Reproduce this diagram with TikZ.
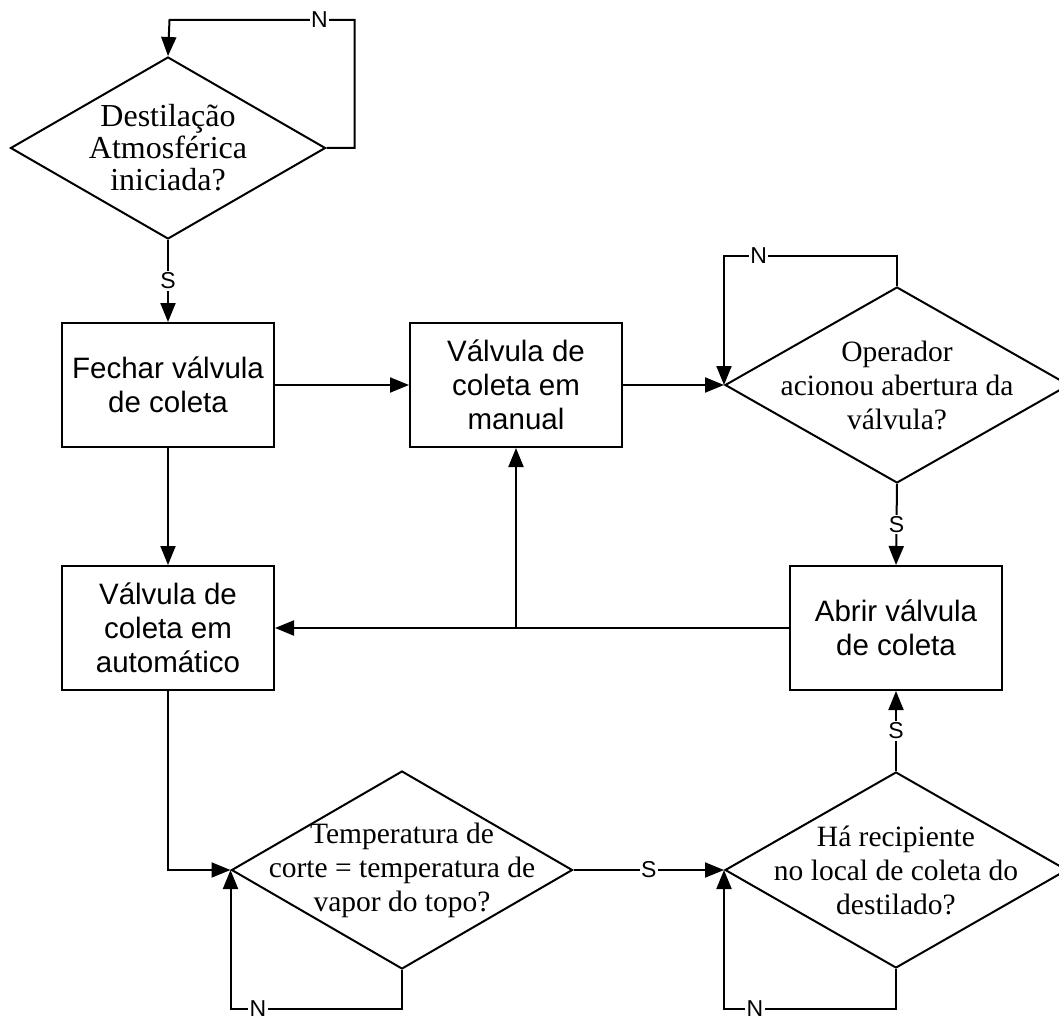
\documentclass[tikz,border=0pt]{standalone}
\usepackage{fontspec}
\setmainfont{Liberation Serif}
\setsansfont{Liberation Sans}
\usetikzlibrary{shapes.geometric,arrows.meta,calc}
\begin{document}
\begin{tikzpicture}[x=1pt,y=-1pt,
  line width=2pt,
  >={Triangle[length=19pt,width=15pt]},
  box/.style={draw, rectangle, minimum width=212pt, minimum height=124pt,
    inner sep=0pt, align=center, font=\sffamily\fontsize{29.5}{34}\selectfont},
  dia/.style={draw, diamond, inner sep=0pt},
  dtext/.style={align=center, font=\rmfamily\fontsize{29.5}{34}\selectfont},
  lbl/.style={fill=white, inner sep=1.5pt, font=\sffamily\fontsize{23}{23}\selectfont},
]
\useasboundingbox (0,0) rectangle (1059,1016);
\clip (0,0) rectangle (1059,1016);

% decisions
\node[dia, minimum width=315pt, minimum height=182pt] (d1) at (168,148) {};
\node[dtext, font=\rmfamily\fontsize{32}{32}\selectfont] at (d1) {Destilação\\Atmosférica\\iniciada?};
\node[dia, minimum width=344pt, minimum height=196pt] (d2) at (897,385) {};
\node[dtext] at (d2) {Operador\\acionou abertura da\\válvula?};
\node[dia, minimum width=341pt, minimum height=198pt] (d3) at (402,870) {};
\node[dtext] at (d3) {Temperatura de\\corte = temperatura de\\vapor do topo?};
\node[dia, minimum width=342pt, minimum height=196pt] (d4) at (896,870) {};
\node[dtext] at (d4) {Há recipiente\\no local de coleta do\\destilado?};

% actions
\node[box] (b1) at (168,385) {Fechar válvula\\de coleta};
\node[box] (b2) at (516,385) {Válvula de\\coleta em\\manual};
\node[box] (b3) at (168,628) {Válvula de\\coleta em\\automático};
\node[box] (b4) at (896,628) {Abrir válvula\\de coleta};

% connectors
\draw[->] (d1.east) -- ++(28,0) -- ++(0,-128) -- node[lbl, pos=0.19] {N} ++(-185,0) -- (d1.north);
\draw[->] (d1.south) -- node[lbl] {S} (b1.north);
\draw[->] (b1.east) -- (b2.west);
\draw[->] (b1.south) -- (b3.north);
\draw[->] (b2.east) -- (d2.west);
\draw[->] (d2.north) -- ++(0,-30) -| node[lbl, pos=0.4] {N} (d2.west);
\draw[->] (d2.south) -- node[lbl] {S} (b4.north);
\coordinate (j) at (b2.south |- b4.west);
\draw[->] (b4.west) -- (b3.east);
\draw[->] (j) -- (b2.south);
\draw[->] (b3.south) |- (d3.west);
\draw[->] (d3.south) -- ++(0,39) -| node[lbl, pos=0.42] {N} (d3.west);
\draw[->] (d3.east) -- node[lbl] {S} (d4.west);
\draw[->] (d4.south) -- ++(0,40) -| node[lbl, pos=0.41] {N} (d4.west);
\draw[->] (d4.north) -- node[lbl] {S} (b4.south);
\end{tikzpicture}
\end{document}
